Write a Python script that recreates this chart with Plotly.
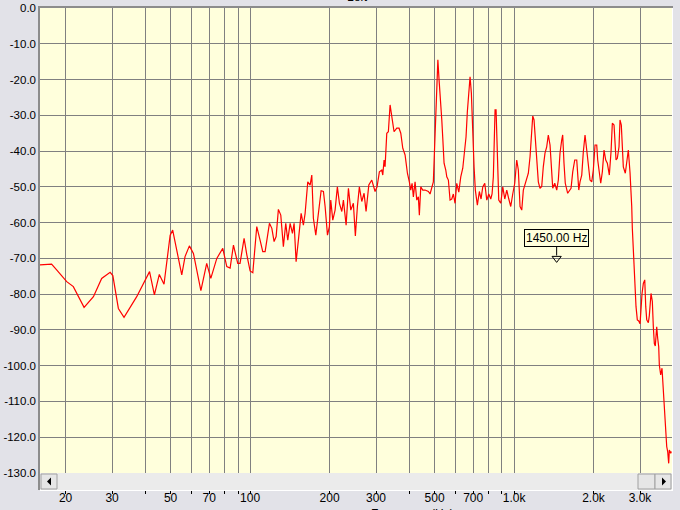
import math
import plotly.graph_objects as go

# ---------------- data ----------------
freq_hz = [
    16.0, 17.0, 17.7, 18.5, 20.2, 21.4, 22.4, 23.5, 25.5, 27.4, 29.5, 30.2, 31.7, 33.3, 37.2,
    41.6, 43.4, 45.3, 47.2, 48.4, 49.8, 50.9, 53.1, 55.1, 56.7, 58.9, 61.0, 65.1, 68.5, 71.0,
    74.8, 78.8, 81.6, 84.0, 86.5, 89.8, 91.6, 94.9, 97.2, 100.0, 102.4, 104.5, 106.0, 109.1,
    111.7, 114.0, 115.7, 118.4, 120.9, 123.3, 125.5, 128.0, 130.7, 133.7, 136.5, 138.9, 141.8,
    144.7, 146.8, 149.4, 152.4, 156.1, 159.2, 161.6, 165.4, 168.8, 171.3, 173.7, 177.4, 181.5,
    185.8, 189.6, 192.4, 196.4, 199.7, 202.1, 205.7, 209.9, 214.1, 218.0, 222.6, 225.7, 231.1,
    235.8, 240.7, 246.2, 250.5, 255.0, 259.4, 264.9, 270.3, 275.0, 281.7, 289.1, 293.1, 297.5,
    302.7, 308.9, 315.5, 318.2, 321.8, 324.6,
    329.5, 334.1, 339.1, 342.1, 346.0, 351.1, 359.5, 366.7, 372.3, 378.8, 386.5, 394.5, 401.2,
    406.2, 410.8, 415.5, 421.7, 428.0, 434.0, 437.8, 443.2, 451.0, 460.1, 473.6, 480.6, 487.8,
    494.6, 499.1, 505.5, 510.0, 514.5, 519.9, 527.7, 532.4, 537.0, 543.1, 551.2, 556.1, 563.9,
    572.2, 580.8, 588.9, 597.7, 606.6, 617.5, 628.2, 639.3, 648.4, 657.9, 665.4, 673.6, 681.3,
    689.1, 697.5, 705.5, 713.4, 726.1, 738.9, 749.9, 761.1, 774.6, 788.2, 802.3, 816.1, 825.4,
    834.8, 847.3, 854.7, 864.4, 875.0, 890.5, 906.2, 922.3, 938.4, 955.2, 971.5, 988.6, 1006.0,
    1023.7, 1038.1, 1053.6, 1069.4, 1084.4, 1103.5, 1117.0, 1132.7, 1149.6,
    1166.9, 1177.0, 1190.4, 1200.9, 1218.8, 1235.9, 1254.0, 1272.8, 1290.6, 1309.9, 1329.5,
    1348.2, 1368.6, 1384.2, 1401.2, 1426.1, 1451.0, 1471.4, 1493.0, 1515.4, 1528.5, 1546.0,
    1563.3, 1596.5, 1619.7, 1643.9, 1668.4, 1698.0, 1727.7, 1758.7, 1778.0, 1804.7, 1829.9,
    1857.3, 1885.0, 1911.5, 1940.0, 1969.1, 1996.6, 2026.5, 2056.8, 2074.4, 2104.1, 2129.9,
    2160.0, 2192.2, 2224.9, 2256.1, 2295.9, 2330.2, 2356.9, 2392.0, 2434.0, 2461.8, 2498.3,
    2520.0, 2548.7, 2593.6, 2639.4, 2671.7, 2709.3, 2750.0, 2766.8, 2791.3, 2805.8, 2830.3,
    2855.9, 2879.5, 2897.7, 2930.7, 2966.7, 3001.0, 3019.3, 3053.8, 3088.6, 3127.0, 3154.1,
    3181.7, 3226.4, 3254.0, 3302.7, 3340.5, 3369.6, 3400.0, 3428.2, 3471.1, 3500.9, 3531.9,
    3551.0, 3593.8, 3634.9, 3676.3, 3709.5, 3754.2, 3787.0, 3819.5, 3853.5, 3874.2, 3921.8,
    3942.4,
]
level_db = [
    -71.8, -71.6, -71.6, -73.2, -76.5, -77.9, -80.7, -83.7, -80.7, -75.6, -73.9, -74.8, -84.0, -86.5, -80.7,
    -73.7, -80.2, -74.5, -77.2, -70.9, -63.5, -62.1, -68.6, -74.6, -69.5, -66.5, -68.6, -79.0, -71.4, -75.6,
    -70.0, -67.2, -72.3, -72.7, -66.3, -71.4, -71.4, -64.4, -69.0, -73.5, -74.0, -66.3, -61.1, -64.9,
    -68.1, -68.1, -64.9, -60.2, -61.6, -65.3, -63.9, -56.3, -57.9, -66.7, -60.2, -64.9, -60.2,
    -63.0, -60.2, -70.9, -64.9, -57.4, -60.7, -57.4, -48.6, -49.5, -46.7, -58.8, -63.5, -56.5,
    -51.1, -51.3, -55.5, -63.5, -61.1, -53.7, -59.3, -56.5, -50.0, -54.6, -56.9, -53.7, -60.7,
    -50.4, -56.5, -54.6, -63.7, -55.5, -50.0, -54.1, -51.8, -56.9, -49.5, -48.1, -50.0, -51.3,
    -50.0, -45.8, -45.3, -46.7, -42.5, -44.4,
    -35.0, -34.6, -27.1, -29.4, -30.8, -34.6, -33.6, -33.6, -35.0, -39.2, -41.1, -46.2, -48.6,
    -50.9, -49.0, -52.8, -48.6, -53.7, -52.8, -57.9, -50.0, -50.9, -50.9, -51.3, -52.0, -50.4,
    -48.6, -40.6, -29.4, -17.3, -14.5, -20.1, -25.7, -31.3, -36.4, -43.4, -45.3, -47.2, -48.1,
    -53.7, -53.4, -52.0, -54.6, -49.0, -51.5, -47.2, -44.8, -40.6, -36.0, -29.0, -23.8, -19.2,
    -23.8, -36.4, -44.4, -50.9, -55.1, -51.3, -53.4, -50.0, -49.0, -53.7, -52.0, -53.4, -52.0,
    -47.2, -28.5, -28.5, -39.7, -53.7, -54.6, -50.0, -53.4, -50.9, -53.4, -55.5, -52.0, -49.0,
    -42.5, -45.3, -55.5, -56.5, -50.9, -49.0, -47.6, -46.2, -41.6,
    -35.0, -30.2, -31.3, -36.0, -43.4, -48.6, -50.4, -49.9, -44.4, -40.6, -38.8,
    -35.5, -38.3, -45.3, -50.4, -49.0, -50.9, -48.1, -40.6, -36.9, -35.5, -43.4,
    -49.0, -51.8, -50.9, -50.4, -45.8, -42.5, -42.5, -50.9, -48.6, -46.7, -40.2,
    -35.5, -39.7, -44.8, -48.1, -48.6, -45.3, -38.3, -38.3, -42.5, -46.7, -49.0,
    -45.8, -39.7, -42.5, -43.4, -46.7, -40.2, -32.2, -32.7, -42.5, -42.0, -38.8,
    -31.3, -32.7, -44.4, -46.2, -43.0, -39.7, -46.0, -49.0, -55.5, -61.6, -68.6,
    -74.2, -77.4, -83.5, -87.2, -87.5, -88.3, -84.4, -79.8, -77.0, -76.0, -83.5,
    -87.2, -88.0, -86.0, -79.8, -82.0, -89.1, -93.8, -94.5, -89.1, -92.4, -94.7,
    -99.8, -102.6, -100.7, -106.8, -112.4, -118.0, -122.6, -124.0, -127.3, -123.6, -124.5,
    -124.0,
]

y_ticks = [0, -10, -20, -30, -40, -50, -60, -70, -80, -90, -100, -110, -120, -130]
y_tick_labels = ["0.0", "-10.0", "-20.0", "-30.0", "-40.0", "-50.0", "-60.0", "-70.0",
                 "-80.0", "-90.0", "-100.0", "-110.0", "-120.0", "-130.0"]
x_grid = [20, 30, 40, 50, 60, 70, 80, 90, 100, 200, 300, 400, 500, 600, 700, 800, 900,
          1000, 2000, 3000]
x_tick_labels = ["20", "30", "", "50", "", "70", "", "", "100", "200", "300", "", "500", "",
                 "700", "", "", "1.0k", "2.0k", "3.0k"]

cursor_freq = 1450.0
cursor_db = -70.0
cursor_label = "1450.00 Hz"
title_text = "Left"
xlabel_text = "Frequency (Hz)"

f_min, f_max = 16.0, 3966.0
db_min, db_max = -130, 0

# ---------------- layout geometry ----------------
W, H = 680, 510
L, R, T, B = 40, 8, 8, 20
paper_w = W - L - R
paper_h = H - T - B
plot_bottom_px = 473
dom_bottom = (H - B - plot_bottom_px) / paper_h


def px(xp):
    return (xp - L) / paper_w


def py(yp):
    return (H - B - yp) / paper_h


FONT = "Liberation Sans, Arial, sans-serif"
BG = "#E2E2E8"
PLOT_BG = "#FFFFDC"
GRID = "#808080"

fig = go.Figure()

# spectrum line
fig.add_trace(go.Scatter(
    x=freq_hz, y=level_db, mode="lines",
    line=dict(color="#FF0000", width=1.2),
    xaxis="x2", yaxis="y", hoverinfo="skip", showlegend=False,
))

# cursor marker (connector + hollow triangle)
fig.add_trace(go.Scatter(
    x=[cursor_freq, cursor_freq], y=[cursor_db + 3.8, cursor_db + 0.8], mode="lines",
    line=dict(color="black", width=1), xaxis="x", yaxis="y",
    hoverinfo="skip", showlegend=False,
))
fig.add_trace(go.Scatter(
    x=[cursor_freq], y=[cursor_db], mode="markers",
    marker=dict(symbol="triangle-down-open", size=8, color="black",
                line=dict(color="black", width=1)),
    xaxis="x", yaxis="y", hoverinfo="skip", showlegend=False,
))

xrange = [math.log10(f_min), math.log10(f_max)]

shapes = []
# scrollbar track
shapes.append(dict(type="rect", xref="paper", yref="paper", x0=px(40), x1=px(672),
                   y0=py(490), y1=py(473), fillcolor="#EBEBEB", line=dict(width=0), layer="above"))
# buttons
for bx0, bx1 in [(41, 57), (638, 655), (655, 671)]:
    shapes.append(dict(type="rect", xref="paper", yref="paper", x0=px(bx0), x1=px(bx1),
                       y0=py(489), y1=py(474), fillcolor="#E6E6E6",
                       line=dict(color="#A0A0A0", width=1), layer="above"))
# arrows
shapes.append(dict(type="path", xref="paper", yref="paper",
                   path=f"M {px(47)} {py(481.5)} L {px(51)} {py(477.5)} L {px(51)} {py(485.5)} Z",
                   fillcolor="black", line=dict(color="black", width=0), layer="above"))
shapes.append(dict(type="path", xref="paper", yref="paper",
                   path=f"M {px(666)} {py(481.5)} L {px(662)} {py(477.5)} L {px(662)} {py(485.5)} Z",
                   fillcolor="black", line=dict(color="black", width=0), layer="above"))
# sunken frame
shapes.append(dict(type="line", xref="paper", yref="paper", x0=px(39), x1=px(673),
                   y0=py(7), y1=py(7), line=dict(color="#8C8C8C", width=2), layer="above"))
shapes.append(dict(type="line", xref="paper", yref="paper", x0=px(39), x1=px(39),
                   y0=py(6), y1=py(490), line=dict(color="#8C8C8C", width=2), layer="above"))
shapes.append(dict(type="line", xref="paper", yref="paper", x0=px(672.5), x1=px(672.5),
                   y0=py(8), y1=py(490.5), line=dict(color="white", width=1), layer="above"))
shapes.append(dict(type="line", xref="paper", yref="paper", x0=px(40), x1=px(673),
                   y0=py(490.5), y1=py(490.5), line=dict(color="white", width=1), layer="above"))

annotations = [
    dict(text=title_text, xref="paper", yref="paper", x=px(357), y=py(-3),
         xanchor="center", yanchor="middle", showarrow=False,
         font=dict(family=FONT, size=12, color="black")),
    dict(text=xlabel_text, xref="paper", yref="paper", x=px(412), y=py(514),
         xanchor="center", yanchor="middle", showarrow=False,
         font=dict(family=FONT, size=12, color="black")),
    dict(text=cursor_label, xref="x", yref="y", x=math.log10(cursor_freq), y=-64.2,
         xanchor="center", yanchor="middle", showarrow=False,
         bgcolor=PLOT_BG, bordercolor="black", borderwidth=1, borderpad=1,
         font=dict(family=FONT, size=12, color="black")),
]

fig.update_layout(
    template="none",
    width=W, height=H,
    margin=dict(l=L, r=R, t=T, b=B, pad=0, autoexpand=False),
    paper_bgcolor=BG, plot_bgcolor=PLOT_BG,
    showlegend=False,
    font=dict(family=FONT, size=12, color="black"),
    xaxis=dict(type="log", range=xrange, tickvals=x_grid, showticklabels=False,
               showgrid=True, gridcolor=GRID, gridwidth=1, zeroline=False,
               showline=False, ticks="", anchor="y", fixedrange=True, automargin=False),
    xaxis2=dict(type="log", range=xrange, overlaying="x", anchor="free", position=0,
                side="bottom", tickvals=x_grid, ticktext=x_tick_labels,
                showgrid=False, zeroline=False, showline=False,
                ticks="outside", ticklen=3, tickwidth=1, tickcolor="black",
                ticklabelstandoff=-6,
                tickfont=dict(family=FONT, size=12, color="black"), fixedrange=True,
                automargin=False),
    yaxis=dict(range=[db_min, db_max], domain=[dom_bottom, 1], tickvals=y_ticks,
               ticktext=y_tick_labels, showgrid=True, gridcolor=GRID, gridwidth=1,
               zeroline=False, showline=False, ticks="", anchor="x",
               ticklabelstandoff=3,
               tickfont=dict(family=FONT, size=11.5, color="black"), fixedrange=True,
               automargin=False),
    shapes=shapes,
    annotations=annotations,
)

fig.write_html(
    "out.html",
    config={"displayModeBar": False, "staticPlot": True},
    post_script="document.documentElement.style.margin='0';document.body.style.margin='0';"
                "document.body.style.overflow='hidden';",
)
